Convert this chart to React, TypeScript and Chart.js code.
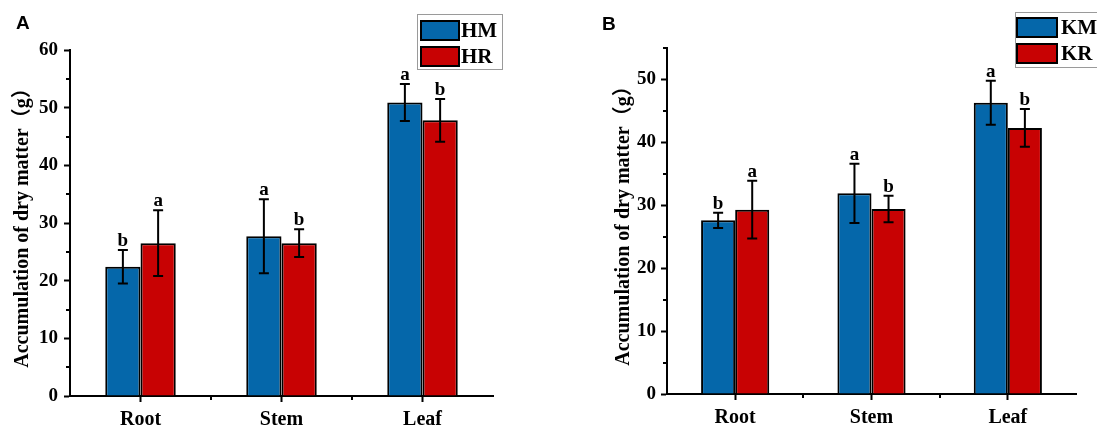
import React, { useEffect, useRef } from 'react';
import { Chart, registerables } from 'chart.js';

Chart.register(...registerables);

// ---------- data ----------
const categories = ['Root', 'Stem', 'Leaf'];

const seriesNamesA = ['HM', 'HR'];
const hmMeans = [22.4, 27.7, 50.9];
const hmErrors = [2.9, 6.4, 3.2];
const hmLetters = ['b', 'a', 'a'];
const hrMeans = [26.5, 26.5, 47.8];
const hrErrors = [5.7, 2.4, 3.7];
const hrLetters = ['a', 'b', 'b'];

const seriesNamesB = ['KM', 'KR'];
const kmMeans = [27.6, 31.9, 46.3];
const kmErrors = [1.2, 4.7, 3.5];
const kmLetters = ['b', 'a', 'a'];
const krMeans = [29.3, 29.4, 42.3];
const krErrors = [4.6, 2.1, 3.0];
const krLetters = ['a', 'b', 'b'];

const yMaxA = 60;
const yMaxB = 55;
const yMajorStep = 10;
const yMinorStep = 5;
const yTitle = 'Accumulation of dry matter（g）';
const panelLabels = ['A', 'B'];

// ---------- styles ----------
const BLUE = '#0567AA';
const RED = '#C80203';
const SERIF = '"Liberation Serif", "Times New Roman", "Noto Sans CJK SC", serif';
const SANS = '"Liberation Sans", Arial, sans-serif';

const decorPlugin = {
  id: 'decor',
  afterDatasetsDraw(chart: any, _args: any, opts: any) {
    const ctx = chart.ctx;
    const ys = chart.scales.y;
    const xs = chart.scales.x;
    const area = chart.chartArea;
    ctx.save();
    // error bars and letters
    chart.data.datasets.forEach((ds: any, di: number) => {
      const meta = chart.getDatasetMeta(di);
      meta.data.forEach((bar: any, j: number) => {
        const v = ds.data[j];
        const e = ds.errors[j];
        const top = ys.getPixelForValue(v + e);
        const bot = ys.getPixelForValue(v - e);
        ctx.strokeStyle = '#000';
        ctx.lineWidth = 2;
        ctx.beginPath();
        ctx.moveTo(bar.x, top);
        ctx.lineTo(bar.x, bot);
        ctx.moveTo(bar.x - 5, top);
        ctx.lineTo(bar.x + 5, top);
        ctx.moveTo(bar.x - 5, bot);
        ctx.lineTo(bar.x + 5, bot);
        ctx.stroke();
        ctx.font = 'bold 19px ' + SERIF;
        ctx.fillStyle = '#000';
        ctx.textAlign = 'center';
        ctx.textBaseline = 'alphabetic';
        ctx.fillText(ds.letters[j], bar.x, top - 4);
      });
    });
    // minor y ticks
    ctx.strokeStyle = '#000';
    ctx.lineWidth = 2;
    ctx.beginPath();
    ys.ticks.forEach((t: any) => {
      if (t.value % yMajorStep !== 0) {
        const py = Math.round(ys.getPixelForValue(t.value));
        ctx.moveTo(area.left, py);
        ctx.lineTo(area.left - 4, py);
      }
    });
    // minor x ticks at category boundaries
    for (let i = 0; i < categories.length - 1; i++) {
      const px = Math.round((xs.getPixelForValue(i) + xs.getPixelForValue(i + 1)) / 2);
      ctx.moveTo(px, area.bottom);
      ctx.lineTo(px, area.bottom + 4);
    }
    ctx.stroke();
    ctx.restore();
  },
  afterDraw(chart: any, _args: any, opts: any) {
    const ctx = chart.ctx;
    ctx.save();
    // legend
    const lg = opts.legend;
    ctx.strokeStyle = '#9a9a9a';
    ctx.lineWidth = 1;
    ctx.strokeRect(lg.x + 0.5, lg.y + 0.5, lg.w, lg.h);
    chart.data.datasets.forEach((ds: any, i: number) => {
      const sy = lg.swY[i];
      ctx.fillStyle = ds.backgroundColor;
      ctx.fillRect(lg.swX, sy, lg.swW, lg.swH);
      ctx.strokeStyle = '#000';
      ctx.lineWidth = 2;
      ctx.strokeRect(lg.swX, sy, lg.swW, lg.swH);
      ctx.fillStyle = '#000';
      ctx.font = 'bold 21px ' + SERIF;
      ctx.textAlign = 'left';
      ctx.textBaseline = 'middle';
      ctx.fillText(ds.label, lg.textX, sy + lg.swH / 2 + 1);
    });
    // panel label
    ctx.fillStyle = '#000';
    ctx.font = 'bold 19px ' + SANS;
    ctx.textAlign = 'left';
    ctx.textBaseline = 'alphabetic';
    ctx.fillText(opts.panelLabel, opts.labelX, opts.labelY);
    ctx.restore();
  },
};

type PanelCfg = {
  names: string[];
  means: number[][];
  errors: number[][];
  letters: string[][];
  max: number;
  padTop: number;
  padRight: number;
  yWidth: number;
  xHeight: number;
  titlePad: number;
  tickPad: number;
  legend: any;
  panelLabel: string;
  labelX: number;
  labelY: number;
};

function makeConfig(p: PanelCfg): any {
  const colors = [BLUE, RED];
  return {
    type: 'bar',
    data: {
      labels: categories,
      datasets: p.names.map((n, i) => ({
        label: n,
        data: p.means[i],
        errors: p.errors[i],
        letters: p.letters[i],
        backgroundColor: colors[i],
        borderColor: '#000',
        borderWidth: 2,
        categoryPercentage: 0.5,
        barPercentage: 1,
      })),
    },
    options: {
      responsive: false,
      animation: false,
      layout: { padding: { top: p.padTop, right: p.padRight, left: 0, bottom: 0 } },
      plugins: {
        legend: { display: false },
        tooltip: { enabled: false },
        decor: { legend: p.legend, panelLabel: p.panelLabel, labelX: p.labelX, labelY: p.labelY },
      },
      scales: {
        x: {
          grid: { display: true, drawOnChartArea: false, offset: false, tickLength: 6, tickWidth: 2, tickColor: '#000' },
          border: { display: true, color: '#000', width: 2 },
          ticks: { color: '#000', font: { family: SERIF, size: 20, weight: 'bold' }, padding: 6, maxRotation: 0 },
          afterFit(s: any) { s.height = p.xHeight; },
        },
        y: {
          min: 0,
          max: p.max,
          grid: {
            display: true,
            drawOnChartArea: false,
            tickLength: 6,
            tickWidth: 2,
            tickColor: (c: any) => (c.tick && c.tick.value % yMajorStep === 0 ? '#000' : 'rgba(0,0,0,0)'),
          },
          border: { display: true, color: '#000', width: 2 },
          ticks: {
            stepSize: yMinorStep,
            autoSkip: false,
            color: '#000',
            font: { family: SERIF, size: 19, weight: 'bold' },
            padding: p.tickPad,
            callback: (v: any) => (v % yMajorStep === 0 ? String(v) : ''),
          },
          title: {
            display: true,
            text: yTitle,
            color: '#000',
            font: { family: SERIF, size: 20, weight: 'bold' },
            padding: { top: p.titlePad, bottom: 0 },
          },
          afterFit(s: any) { s.width = p.yWidth; },
        },
      },
    },
    plugins: [decorPlugin],
  };
}

const panelA: PanelCfg = {
  names: seriesNamesA,
  means: [hmMeans, hrMeans],
  errors: [hmErrors, hrErrors],
  letters: [hmLetters, hrLetters],
  max: yMaxA,
  padTop: 50,
  padRight: 67,
  yWidth: 70,
  xHeight: 32,
  titlePad: 11,
  tickPad: 6,
  legend: { x: 417, y: 14, w: 85, h: 55, swX: 421, swW: 38, swH: 19, swY: [21, 47], textX: 461 },
  panelLabel: panelLabels[0],
  labelX: 16,
  labelY: 29,
};

const panelB: PanelCfg = {
  names: seriesNamesB,
  means: [kmMeans, krMeans],
  errors: [kmErrors, krErrors],
  letters: [kmLetters, krLetters],
  max: yMaxB,
  padTop: 48,
  padRight: 21,
  yWidth: 107,
  xHeight: 34,
  titlePad: 52,
  tickPad: 5,
  legend: { x: 455, y: 12, w: 100, h: 55, swX: 457, swW: 40, swH: 19, swY: [18, 44], textX: 501 },
  panelLabel: panelLabels[1],
  labelX: 42,
  labelY: 30,
};

function Panel({ cfg, left, width }: { cfg: PanelCfg; left: number; width: number }) {
  const ref = useRef<HTMLCanvasElement>(null);
  useEffect(() => {
    const chart = new Chart(ref.current as HTMLCanvasElement, makeConfig(cfg));
    return () => chart.destroy();
  }, []);
  return (
    <canvas
      ref={ref}
      width={width}
      height={428}
      style={{ position: 'absolute', left, top: 0, width, height: 428 }}
    />
  );
}

export default function App() {
  return (
    <div style={{ position: 'absolute', left: 0, top: 0, width: 1097, height: 428, background: '#fff', overflow: 'hidden' }}>
      <Panel cfg={panelA} left={0} width={560} />
      <Panel cfg={panelB} left={560} width={537} />
    </div>
  );
}
